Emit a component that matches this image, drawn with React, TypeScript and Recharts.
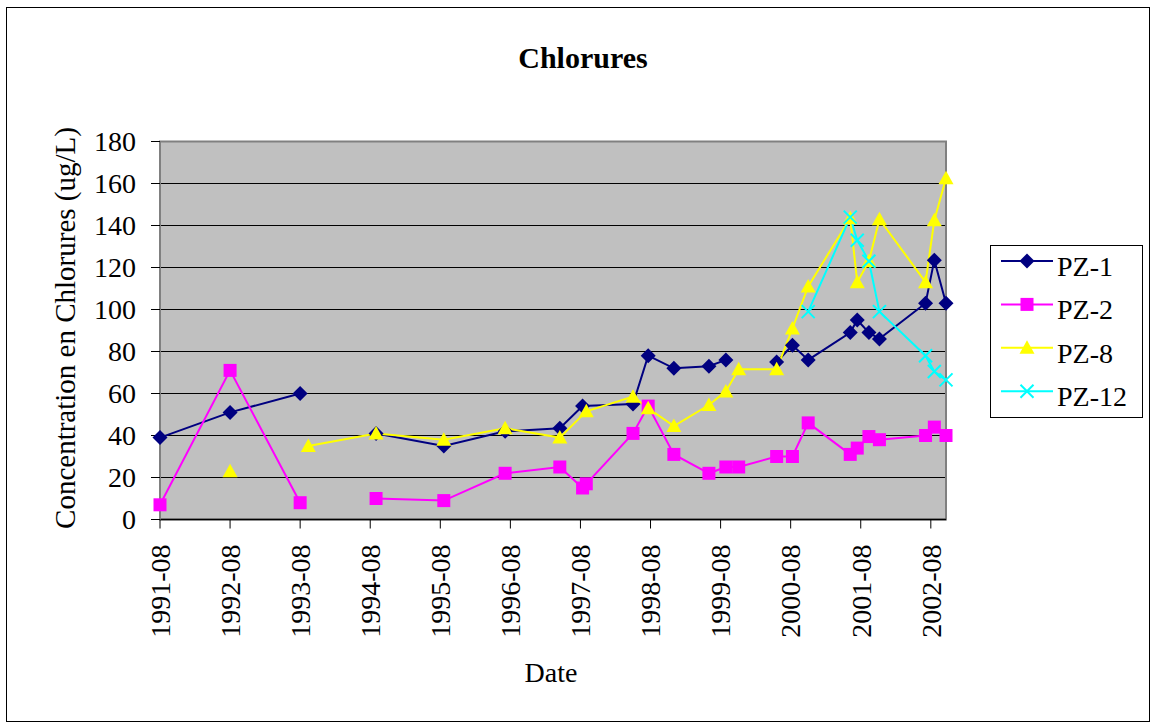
import {
  LineChart,
  Line,
  XAxis,
  YAxis,
  CartesianGrid,
  Legend,
  ReferenceArea,
} from "recharts";

const FONT = '"Liberation Serif", "Times New Roman", Times, serif';

// Sampling dates per well; a null value is a blank cell and breaks the line
const pz1Dates = [
  "1991-08-01", "1992-08-01", "1993-08-01", "1993-09-13", "1994-09-01",
  "1995-08-19", "1996-07-04", "1997-04-15", "1997-08-12", "1998-05-01",
  "1998-07-19", "1998-12-01", "1999-06-01", "1999-08-28", "1999-11-04",
  "2000-05-19", "2000-08-10", "2000-11-01", "2001-06-07", "2001-07-13",
  "2001-09-13", "2001-11-07", "2002-07-04", "2002-08-19", "2002-10-19",
];
const pz1Values = [
  39, 51, 60, null, 41, 35, 42, 43.5, 54, 55, 78, 72, 73, 76, null, 75, 83,
  76, 89, 95, 89, 86, 103, 123.5, 103,
];

const pz2Dates = [
  "1991-08-01", "1992-08-01", "1993-08-01", "1993-09-13", "1994-09-01",
  "1995-08-19", "1996-07-04", "1997-04-15", "1997-08-12", "1997-09-01",
  "1998-05-01", "1998-07-19", "1998-12-01", "1999-06-01", "1999-08-28",
  "1999-11-04", "2000-05-19", "2000-08-10", "2000-11-01", "2001-06-07",
  "2001-07-13", "2001-09-13", "2001-11-07", "2002-07-04", "2002-08-19",
  "2002-10-19",
];
const pz2Values = [
  7, 71, 8, null, 10, 9, 22, 25, 15, 17, 41, 54, 31, 22, 25, 25, 30, 30, 46,
  31, 34, 39.5, 38, 40, 44, 40,
];

const pz8Dates = [
  "1992-08-01", "1993-08-01", "1993-09-13", "1994-09-01", "1995-08-19",
  "1996-07-04", "1997-04-15", "1997-09-01", "1998-05-01", "1998-07-19",
  "1998-12-01", "1999-06-01", "1999-08-28", "1999-11-04", "2000-05-19",
  "2000-08-10", "2000-11-01", "2001-06-07", "2001-07-13", "2001-09-13",
  "2001-11-07", "2002-07-04", "2002-08-19", "2002-10-19",
];
const pz8Values = [
  23, null, 35, 41, 38, 43.5, 39, 51.5, 58.5, 53, 44.5, 54.5, 61, 71.5, 71.5,
  91, 111, 143.5, 113, 123, 143, 113, 142.5, 162.5,
];

const pz12Dates = [
  "2000-11-01", "2001-06-07", "2001-07-13", "2001-09-13", "2001-11-07",
  "2002-07-04", "2002-08-19", "2002-10-19",
];
const pz12Values = [99, 144, 133, 123, 99, 78, 70.5, 66.5];

const xTickLabels = [
  "1991-08", "1992-08", "1993-08", "1994-08", "1995-08", "1996-08",
  "1997-08", "1998-08", "1999-08", "2000-08", "2001-08", "2002-08",
];
const yTicks = [0, 20, 40, 60, 80, 100, 120, 140, 160, 180];

const AXIS_START = "1991-08-01";
const AXIS_END = "2002-10-19";

// months elapsed since Aug 1991, so the axis is a real date scale
function toMonths(date: string): number {
  const [y, m, d] = date.split("-").map(Number);
  return (y - 1991) * 12 + (m - 8) + (d - 1) / 30;
}

type Shape = "diamond" | "square" | "triangle" | "cross";

const series: {
  name: string;
  color: string;
  shape: Shape;
  dates: string[];
  values: (number | null)[];
}[] = [
  { name: "PZ-1", color: "#000080", shape: "diamond", dates: pz1Dates, values: pz1Values },
  { name: "PZ-2", color: "#FF00FF", shape: "square", dates: pz2Dates, values: pz2Values },
  { name: "PZ-8", color: "#FFFF00", shape: "triangle", dates: pz8Dates, values: pz8Values },
  { name: "PZ-12", color: "#00FFFF", shape: "cross", dates: pz12Dates, values: pz12Values },
];

const xTicks = xTickLabels.map((l) => toMonths(l + "-01"));
const labelByMonth = new Map(xTicks.map((t, i) => [t, xTickLabels[i]]));

function Marker({ shape, x, y, color }: { shape: Shape; x: number; y: number; color: string }) {
  switch (shape) {
    case "diamond":
      return <path d={`M${x},${y - 7.5}L${x + 7.5},${y}L${x},${y + 7.5}L${x - 7.5},${y}Z`} fill={color} />;
    case "square":
      return <rect x={x - 6.5} y={y - 6.5} width={13} height={13} fill={color} />;
    case "triangle":
      return <path d={`M${x},${y - 7.5}L${x + 7.5},${y + 6}L${x - 7.5},${y + 6}Z`} fill={color} />;
    default:
      return (
        <path
          d={`M${x - 6.5},${y - 6.5}L${x + 6.5},${y + 6.5}M${x + 6.5},${y - 6.5}L${x - 6.5},${y + 6.5}`}
          stroke={color}
          strokeWidth={2}
        />
      );
  }
}

function DateTick({ x, y, payload }: any) {
  return (
    <text
      transform={`translate(${x},${y}) rotate(-90)`}
      textAnchor="end"
      dy="0.35em"
      fontSize={28}
      fontFamily={FONT}
      fill="#000"
    >
      {labelByMonth.get(payload.value) ?? ""}
    </text>
  );
}

// Excel-style boxed legend
function LegendBox() {
  return (
    <svg width={153} height={173}>
      <rect x={0.5} y={0.5} width={152} height={172} fill="#fff" stroke="#000" />
      {series.map((s, i) => {
        const cy = 16 + i * 43.4;
        return (
          <g key={s.name}>
            <line x1={11} x2={63} y1={cy} y2={cy} stroke={s.color} strokeWidth={2} />
            <Marker shape={s.shape} x={37} y={cy} color={s.color} />
            <text x={67} y={cy + 15} fontSize={28} fontFamily={FONT} fill="#000">
              {s.name}
            </text>
          </g>
        );
      })}
    </svg>
  );
}

export default function App() {
  return (
    <div
      style={{
        position: "absolute",
        left: 0,
        top: 0,
        width: 1153,
        height: 724,
        background: "#fff",
        fontFamily: FONT,
      }}
    >
      <LineChart width={1153} height={724} margin={{ top: 141.5, right: 207, bottom: 0, left: 0 }}>
        <CartesianGrid horizontal vertical={false} stroke="#000" fill="#C0C0C0" />
        <ReferenceArea
          x1={toMonths(AXIS_START)}
          x2={toMonths(AXIS_END)}
          y1={0}
          y2={180}
          fill="none"
          stroke="#808080"
          strokeWidth={2}
          ifOverflow="visible"
        />
        <XAxis
          type="number"
          dataKey="m"
          domain={[toMonths(AXIS_START), toMonths(AXIS_END)]}
          ticks={xTicks}
          interval={0}
          height={204.5}
          tickSize={9}
          tickMargin={16}
          tick={DateTick}
          axisLine={{ stroke: "#000", strokeWidth: 1.5 }}
          tickLine={{ stroke: "#000" }}
          label={{
            content: () => (
              <text x={551} y={682} textAnchor="middle" fontSize={28} fontFamily={FONT} fill="#000">
                Date
              </text>
            ),
          }}
        />
        <YAxis
          type="number"
          domain={[0, 180]}
          ticks={yTicks}
          width={160}
          tickSize={9}
          tickMargin={15}
          tick={{ fill: "#000", fontSize: 28, fontFamily: FONT }}
          axisLine={{ stroke: "#808080", strokeWidth: 2 }}
          tickLine={{ stroke: "#000" }}
          label={{
            content: () => (
              <text
                transform="translate(75,328) rotate(-90)"
                textAnchor="middle"
                fontSize={29}
                fontFamily={FONT}
                fill="#000"
              >
                Concentration en Chlorures (ug/L)
              </text>
            ),
          }}
        />
        <Legend
          layout="vertical"
          align="center"
          verticalAlign="middle"
          wrapperStyle={{ left: 990, top: 245, width: 153, height: 173 }}
          content={() => <LegendBox />}
        />
        {series.map((s) => (
          <Line
            key={s.name}
            name={s.name}
            data={s.dates.map((d, i) => ({ m: toMonths(d), v: s.values[i] }))}
            dataKey="v"
            stroke={s.color}
            strokeWidth={2}
            connectNulls={false}
            isAnimationActive={false}
            dot={(p: any) =>
              p.cy == null || p.value == null ? (
                <g key={p.index} />
              ) : (
                <g key={p.index}>
                  <Marker shape={s.shape} x={p.cx} y={p.cy} color={s.color} />
                </g>
              )
            }
            activeDot={false}
          />
        ))}
      </LineChart>
      <svg
        width={1153}
        height={724}
        style={{ position: "absolute", left: 0, top: 0, pointerEvents: "none" }}
      >
        <rect x={6.5} y={7.5} width={1143} height={714} fill="none" stroke="#000" />
        <text x={583} y={68} textAnchor="middle" fontSize={30} fontWeight="bold" fontFamily={FONT} fill="#000">
          Chlorures
        </text>
      </svg>
    </div>
  );
}
